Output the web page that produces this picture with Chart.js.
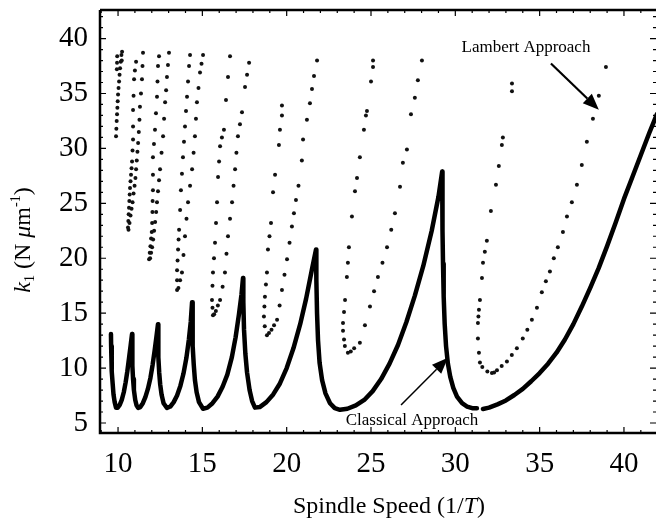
<!DOCTYPE html>
<html>
<head>
<meta charset="utf-8">
<script src="https://cdn.jsdelivr.net/npm/chart.js@4"></script>
<style>
  html, body { margin: 0; padding: 0; background: #fff; }
  #wrap { width: 657px; height: 527px; position: relative; }
</style>
</head>
<body>
<div id="wrap"><canvas id="chart"></canvas></div>
<script>
// tick labels
const xTickValues = [10, 15, 20, 25, 30, 35, 40];
const yTickValues = [5, 10, 15, 20, 25, 30, 35, 40];

// classical approach (solid line, null = gap between the last two lobes)
const classicalX = [
  9.58, 9.59, 9.61, 9.64, 9.68, 9.73, 9.8, 9.88, 9.98, 10.1, 10.22, 10.34, 10.45, 10.55, 10.65, 10.75, 10.83,
  10.84, 10.86, 10.89, 10.94, 11.02, 11.1, 11.19, 11.32, 11.47, 11.62, 11.77, 11.92, 12.05, 12.17, 12.28, 12.37,
  12.38, 12.4, 12.44, 12.5, 12.58, 12.7, 12.9, 13.1, 13.3, 13.5, 13.7, 13.88, 14.05, 14.2, 14.31, 14.39,
  14.41, 14.44, 14.49, 14.56, 14.66, 14.8, 15.04, 15.3, 15.6, 15.9, 16.2, 16.48, 16.75, 16.97, 17.17, 17.32, 17.41,
  17.43, 17.47, 17.55, 17.65, 17.8, 17.95, 18.12, 18.4, 18.8, 19.2, 19.6, 20.0, 20.4, 20.8, 21.15, 21.5, 21.74,
  21.76, 21.8, 21.86, 21.95, 22.1, 22.3, 22.57, 22.85, 23.16, 23.6, 24.1, 24.6, 25.1, 25.6, 26.1, 26.6, 27.1, 27.6, 28.1, 28.6, 29.0, 29.22,
  29.23, 29.25, 29.27, 29.31, 29.37, 29.45, 29.56, 29.7, 29.88, 30.1, 30.4, 30.7, 31.0, 31.28,
  31.45,
  31.64, 32.0, 32.5, 33.0, 33.5, 34.0, 34.5, 35.0, 35.5, 36.0, 36.5, 37.0, 37.5, 38.0, 38.5, 39.0, 39.5, 40.0, 40.5, 41.0, 41.5, 41.95
];
const classicalY = [
  13.1, 12.0, 10.8, 9.7, 8.6, 7.6, 6.9, 6.4, 6.4, 6.65, 7.1, 7.8, 8.7, 9.7, 10.9, 12.1, 13.1,
  11.6, 10.2, 9.0, 8.0, 7.1, 6.6, 6.37, 6.45, 6.8, 7.35, 8.1, 9.1, 10.3, 11.6, 12.9, 14.0,
  12.5, 11.0, 9.6, 8.5, 7.6, 6.8, 6.37, 6.5, 6.9, 7.5, 8.4, 9.5, 10.9, 12.6, 14.2, 16.0,
  14.0, 12.0, 10.3, 8.9, 7.8, 6.9, 6.3, 6.4, 6.8, 7.4, 8.3, 9.4, 11.0, 12.8, 14.9, 16.7, 18.2,
  16.0, 13.5, 11.3, 9.6, 8.0, 7.0, 6.4, 6.45, 6.9, 7.6, 8.6, 10.0, 11.8, 14.0, 16.3, 19.0, 20.8,
  18.0, 15.0, 12.5, 10.5, 8.9, 7.7, 6.8, 6.35, 6.2, 6.3, 6.6, 7.1, 7.9, 9.0, 10.4, 12.1, 14.2, 16.6, 19.3, 22.5, 25.6, 27.9,
  25.5, 22.5, 19.5, 16.5, 14.0, 12.0, 10.4, 9.2, 8.2, 7.4, 6.8, 6.5, 6.35, 6.35,
  null,
  6.28, 6.4, 6.7, 7.05, 7.55, 8.1, 8.8, 9.55, 10.4, 11.4, 12.6, 14.0, 15.6, 17.3, 19.1, 21.1, 23.2, 25.4, 27.4, 29.4, 31.4, 33.1
];

// Lambert approach (dots), lobe by lobe
const lambertX = [
  9.88, 9.9, 9.92, 9.94, 9.96, 9.98, 10.0, 10.03, 10.06, 10.09, 10.12, 10.16, 10.2, 10.24, 9.93, 9.94, 9.95, 10.22,
  10.59, 10.61, 10.63, 10.65, 10.67, 10.69, 10.71, 10.74, 10.77, 10.8, 10.83, 10.86, 10.89, 10.89, 10.89, 10.92, 10.95, 11.0, 11.07,
  10.62, 10.68, 10.74, 10.8, 10.86, 10.92, 10.98, 11.03, 11.07, 11.11, 11.15, 11.19, 11.23, 11.27, 11.3, 11.36, 11.42, 11.45, 11.48,
  11.84, 11.88, 11.92, 11.96, 12.0, 12.02, 12.04, 12.05, 12.07, 12.07, 12.07, 12.13, 12.19, 12.25, 12.31, 12.34, 12.37, 12.43,
  11.9, 11.96, 12.02, 12.08, 12.14, 12.2, 12.26, 12.31, 12.37, 12.43, 12.49, 12.58, 12.67, 12.73, 12.79, 12.85, 12.9, 12.96, 13.02,
  13.5, 13.5, 13.5, 13.53, 13.56, 13.59, 13.62, 13.68, 13.73, 13.79, 13.85, 13.91, 13.97, 14.03, 14.09, 14.15, 14.21, 14.27,
  13.58, 13.68, 13.79, 13.88, 13.97, 14.06, 14.15, 14.27, 14.39, 14.48, 14.56, 14.62, 14.68, 14.77, 14.86, 14.95, 15.04,
  15.63, 15.6, 15.57, 15.6, 15.63, 15.69, 15.75, 15.81, 15.87, 15.93, 15.99, 16.05, 16.16, 16.28, 16.4, 16.52, 16.64,
  15.7, 15.8, 15.92, 16.05, 16.2, 16.34, 16.43, 16.52, 16.64, 16.76, 16.85, 16.94, 17.02, 17.11, 17.23, 17.35, 17.53, 17.65, 17.77,
  18.83, 18.7, 18.65, 18.68, 18.71, 18.77, 18.83, 18.89, 18.98, 19.07, 19.19, 19.31, 19.54, 19.6, 19.72, 19.72,
  18.95, 19.1, 19.25, 19.43, 19.58, 19.72, 19.87, 20.02, 20.17, 20.31, 20.43, 20.55, 20.7, 20.9, 20.97, 21.2, 21.38, 21.5, 21.62, 21.8,
  23.63, 23.45, 23.4, 23.34, 23.34, 23.4, 23.46, 23.57, 23.63, 23.69, 23.87, 24.05, 24.17, 24.34, 24.58, 24.7, 24.76, 25.0, 25.12, 25.12,
  23.8, 24.0, 24.34, 24.64, 24.94, 25.18, 25.41, 25.68, 25.95, 26.2, 26.42, 26.72, 26.89, 27.13, 27.37, 27.6, 27.78, 28.02,
  32.17, 31.9, 31.6, 31.46, 31.4, 31.34, 31.34, 31.37, 31.4, 31.46, 31.58, 31.64, 31.75, 31.87, 32.11, 32.41, 32.58, 32.76, 32.82, 33.36, 33.36,
  32.3, 32.47, 32.75, 33.06, 33.35, 33.65, 34.0, 34.27, 34.54, 34.84, 35.13, 35.37, 35.61, 35.84, 36.08, 36.38, 36.62, 36.91, 37.21, 37.5, 37.8, 38.16, 38.51, 38.93
];
const lambertY = [
  31.1, 31.8, 32.5, 33.1, 33.7, 34.3, 34.9, 35.5, 36.1, 36.7, 37.3, 37.9, 38.5, 38.8, 37.2, 37.8, 38.4, 38.0,
  22.8, 23.4, 24.0, 24.6, 25.2, 25.8, 26.4, 27.0, 27.6, 28.2, 28.8, 29.8, 30.8, 32.0, 33.5, 34.8, 36.3, 37.1, 37.9,
  22.6, 23.2, 23.9, 24.5, 25.1, 25.9, 26.6, 27.3, 28.1, 28.9, 29.7, 30.5, 31.5, 32.6, 33.8, 35.0, 36.3, 37.5, 38.7,
  19.9, 20.5, 21.1, 21.8, 22.4, 23.2, 24.2, 25.2, 26.2, 27.6, 29.2, 30.4, 31.7, 33.2, 34.7, 36.1, 37.5, 38.4,
  20.0, 20.5, 21.0, 21.7, 22.5, 23.3, 24.2, 25.1, 26.1, 27.1, 28.1, 29.6, 31.1, 32.7, 34.2, 35.3, 36.5, 37.6, 38.7,
  17.1, 18.0, 18.9, 19.8, 20.8, 21.7, 22.6, 24.4, 26.2, 27.7, 29.2, 30.6, 32.0, 33.4, 34.7, 36.1, 37.5, 38.5,
  17.3, 18.0, 18.7, 20.3, 22.0, 23.6, 25.1, 26.6, 28.1, 29.6, 31.1, 32.7, 34.2, 35.5, 36.9, 37.7, 38.5,
  14.8, 15.5, 16.2, 17.5, 18.7, 20.0, 21.4, 23.2, 25.1, 27.4, 28.8, 30.2, 31.0, 31.7, 34.4, 36.5, 38.4,
  14.9, 15.2, 15.7, 16.2, 17.4, 18.7, 20.4, 22.0, 23.6, 25.1, 26.6, 28.1, 29.6, 31.1, 32.2, 33.3, 35.6, 36.7, 37.8,
  13.0, 13.8, 14.7, 15.6, 16.5, 17.6, 18.7, 20.8, 22.0, 23.2, 26.0, 27.6, 30.3, 31.7, 33.0, 33.9,
  13.2, 13.5, 13.9, 14.4, 15.7, 17.1, 18.5, 19.9, 21.4, 22.9, 24.1, 25.3, 26.6, 28.9, 30.8, 32.6, 34.1, 35.4, 36.6, 38.0,
  11.4, 12.0, 12.6, 13.4, 14.1, 15.1, 16.2, 18.3, 19.6, 21.0, 23.8, 26.1, 27.3, 29.2, 31.7, 33.0, 33.4, 36.1, 37.4, 38.0,
  11.5, 11.8, 12.3, 13.9, 15.6, 17.0, 18.3, 19.6, 21.0, 22.6, 24.1, 26.5, 28.7, 29.9, 33.1, 34.6, 36.2, 38.0,
  9.56, 9.7, 10.1, 10.5, 11.4, 12.7, 14.1, 14.7, 15.3, 16.2, 18.2, 19.6, 20.6, 21.6, 24.3, 26.7, 28.4, 30.3, 31.0, 35.2, 35.9,
  9.6, 9.8, 10.2, 10.6, 11.2, 11.8, 12.7, 13.5, 14.4, 15.5, 16.9, 17.9, 18.8, 20.0, 21.0, 22.4, 23.8, 25.1, 26.7, 28.5, 30.6, 32.7, 34.8, 37.4
];

// annotation positions in data units
const notes = [
  { text: "Lambert Approach", x: 34.19, y: 38.82, ax: [35.67, 37.73], tip: [38.51, 33.53], lw: 2.2 },
  { text: "Classical Approach", x: 27.43, y: 4.82, ax: [26.78, 6.64], tip: [29.56, 10.93], lw: 1.5 }
];

const serif = "'Liberation Serif', 'DejaVu Serif', serif";

function drawRich(ctx, parts, cx, cy) {
  let total = 0;
  parts.forEach((p) => { ctx.font = p.f; total += ctx.measureText(p.t).width; });
  let x = cx - total / 2;
  ctx.textBaseline = "alphabetic";
  ctx.textAlign = "left";
  parts.forEach((p) => {
    ctx.font = p.f;
    ctx.fillText(p.t, x, cy + (p.dy || 0));
    x += ctx.measureText(p.t).width;
  });
}

function arrow(ctx, x1, y1, x2, y2, lw) {
  const ang = Math.atan2(y2 - y1, x2 - x1);
  const len = 16, half = 6.5;
  const bx = x2 - len * Math.cos(ang), by = y2 - len * Math.sin(ang);
  ctx.lineWidth = lw;
  ctx.beginPath();
  ctx.moveTo(x1, y1);
  ctx.lineTo(bx, by);
  ctx.stroke();
  ctx.beginPath();
  ctx.moveTo(x2, y2);
  ctx.lineTo(bx + half * Math.sin(ang), by - half * Math.cos(ang));
  ctx.lineTo(bx - half * Math.sin(ang), by + half * Math.cos(ang));
  ctx.closePath();
  ctx.fill();
}

const framePlugin = {
  id: "frame",
  afterDraw(chart) {
    const { ctx, chartArea: a, scales } = chart;
    const xs = scales.x, ys = scales.y;
    ctx.save();
    ctx.strokeStyle = "#000";
    ctx.fillStyle = "#000";

    // spines
    ctx.lineWidth = 2.5;
    ctx.beginPath();
    ctx.moveTo(a.left, a.top);
    ctx.lineTo(a.right, a.top);
    ctx.moveTo(a.left, a.top);
    ctx.lineTo(a.left, a.bottom);
    ctx.lineTo(a.right, a.bottom);
    ctx.stroke();

    // inward tick marks
    ctx.lineWidth = 1.2;
    ctx.beginPath();
    for (let v = 9; v <= 41; v++) {
      const px = xs.getPixelForValue(v);
      const len = v % 5 === 0 ? 6 : 3;
      ctx.moveTo(px, a.bottom); ctx.lineTo(px, a.bottom - len);
      ctx.moveTo(px, a.top); ctx.lineTo(px, a.top + len);
    }
    for (let v = 5; v <= 42; v++) {
      const py = ys.getPixelForValue(v);
      const len = v % 5 === 0 ? 6 : 3;
      ctx.moveTo(a.left, py); ctx.lineTo(a.left + len, py);
      ctx.moveTo(a.right, py); ctx.lineTo(a.right - len, py);
    }
    ctx.stroke();

    // axis titles
    drawRich(ctx, [
      { t: "Spindle Speed (1/", f: "24px " + serif },
      { t: "T", f: "italic 24px " + serif },
      { t: ")", f: "24px " + serif }
    ], 389, 513);

    ctx.save();
    ctx.translate(30, 240);
    ctx.rotate(-Math.PI / 2);
    drawRich(ctx, [
      { t: "k", f: "italic 24px " + serif },
      { t: "1", f: "14px " + serif, dy: 4 },
      { t: " (N ", f: "24px " + serif },
      { t: "\u03bc", f: "italic 24px " + serif },
      { t: "m", f: "24px " + serif },
      { t: "-1", f: "14px " + serif, dy: -10 },
      { t: ")", f: "24px " + serif }
    ], 0, 0);
    ctx.restore();

    // annotations
    notes.forEach((n) => {
      drawRich(ctx, [{ t: n.text, f: "17px " + serif }], xs.getPixelForValue(n.x), ys.getPixelForValue(n.y));
      arrow(ctx,
        xs.getPixelForValue(n.ax[0]), ys.getPixelForValue(n.ax[1]),
        xs.getPixelForValue(n.tip[0]), ys.getPixelForValue(n.tip[1]), n.lw);
    });
    ctx.restore();
  }
};

const classicalData = classicalX.map((x, i) => ({ x, y: classicalY[i] }));
const lambertData = lambertX.map((x, i) => ({ x, y: lambertY[i] }));

new Chart(document.getElementById("chart"), {
  type: "scatter",
  data: {
    datasets: [
      {
        label: "Classical Approach",
        data: classicalData,
        showLine: true,
        spanGaps: false,
        tension: 0,
        borderColor: "#000",
        borderWidth: 4.5,
        pointRadius: 0,
        borderJoinStyle: "round",
        borderCapStyle: "round"
      },
      {
        label: "Lambert Approach",
        data: lambertData,
        showLine: false,
        pointRadius: 2,
        pointBorderWidth: 0,
        backgroundColor: "#111"
      }
    ]
  },
  options: {
    responsive: true,
    maintainAspectRatio: false,
    animation: false,
    devicePixelRatio: 1,
    layout: { autoPadding: false, padding: { top: 10, right: 1, left: 0, bottom: 0 } },
    plugins: {
      legend: { display: false },
      tooltip: { enabled: false }
    },
    scales: {
      x: {
        type: "linear",
        min: 8.93,
        max: 41.9,
        grid: { display: false, drawTicks: false },
        border: { display: false },
        afterBuildTicks: (s) => { s.ticks = xTickValues.map((v) => ({ value: v })); },
        afterFit: (s) => { s.height = 94; s.paddingLeft = 0; s.paddingRight = 0; },
        ticks: {
          autoSkip: false,
          maxRotation: 0,
          padding: 14,
          color: "#000",
          font: { family: serif, size: 29 }
        }
      },
      y: {
        type: "linear",
        min: 4.09,
        max: 42.6,
        grid: { display: false, drawTicks: false },
        border: { display: false },
        afterBuildTicks: (s) => { s.ticks = yTickValues.map((v) => ({ value: v })); },
        afterFit: (s) => { s.width = 100; s.paddingTop = 0; s.paddingBottom = 0; },
        ticks: {
          autoSkip: false,
          padding: 12,
          color: "#000",
          font: { family: serif, size: 29 }
        }
      }
    }
  },
  plugins: [framePlugin]
});
</script>
</body>
</html>
